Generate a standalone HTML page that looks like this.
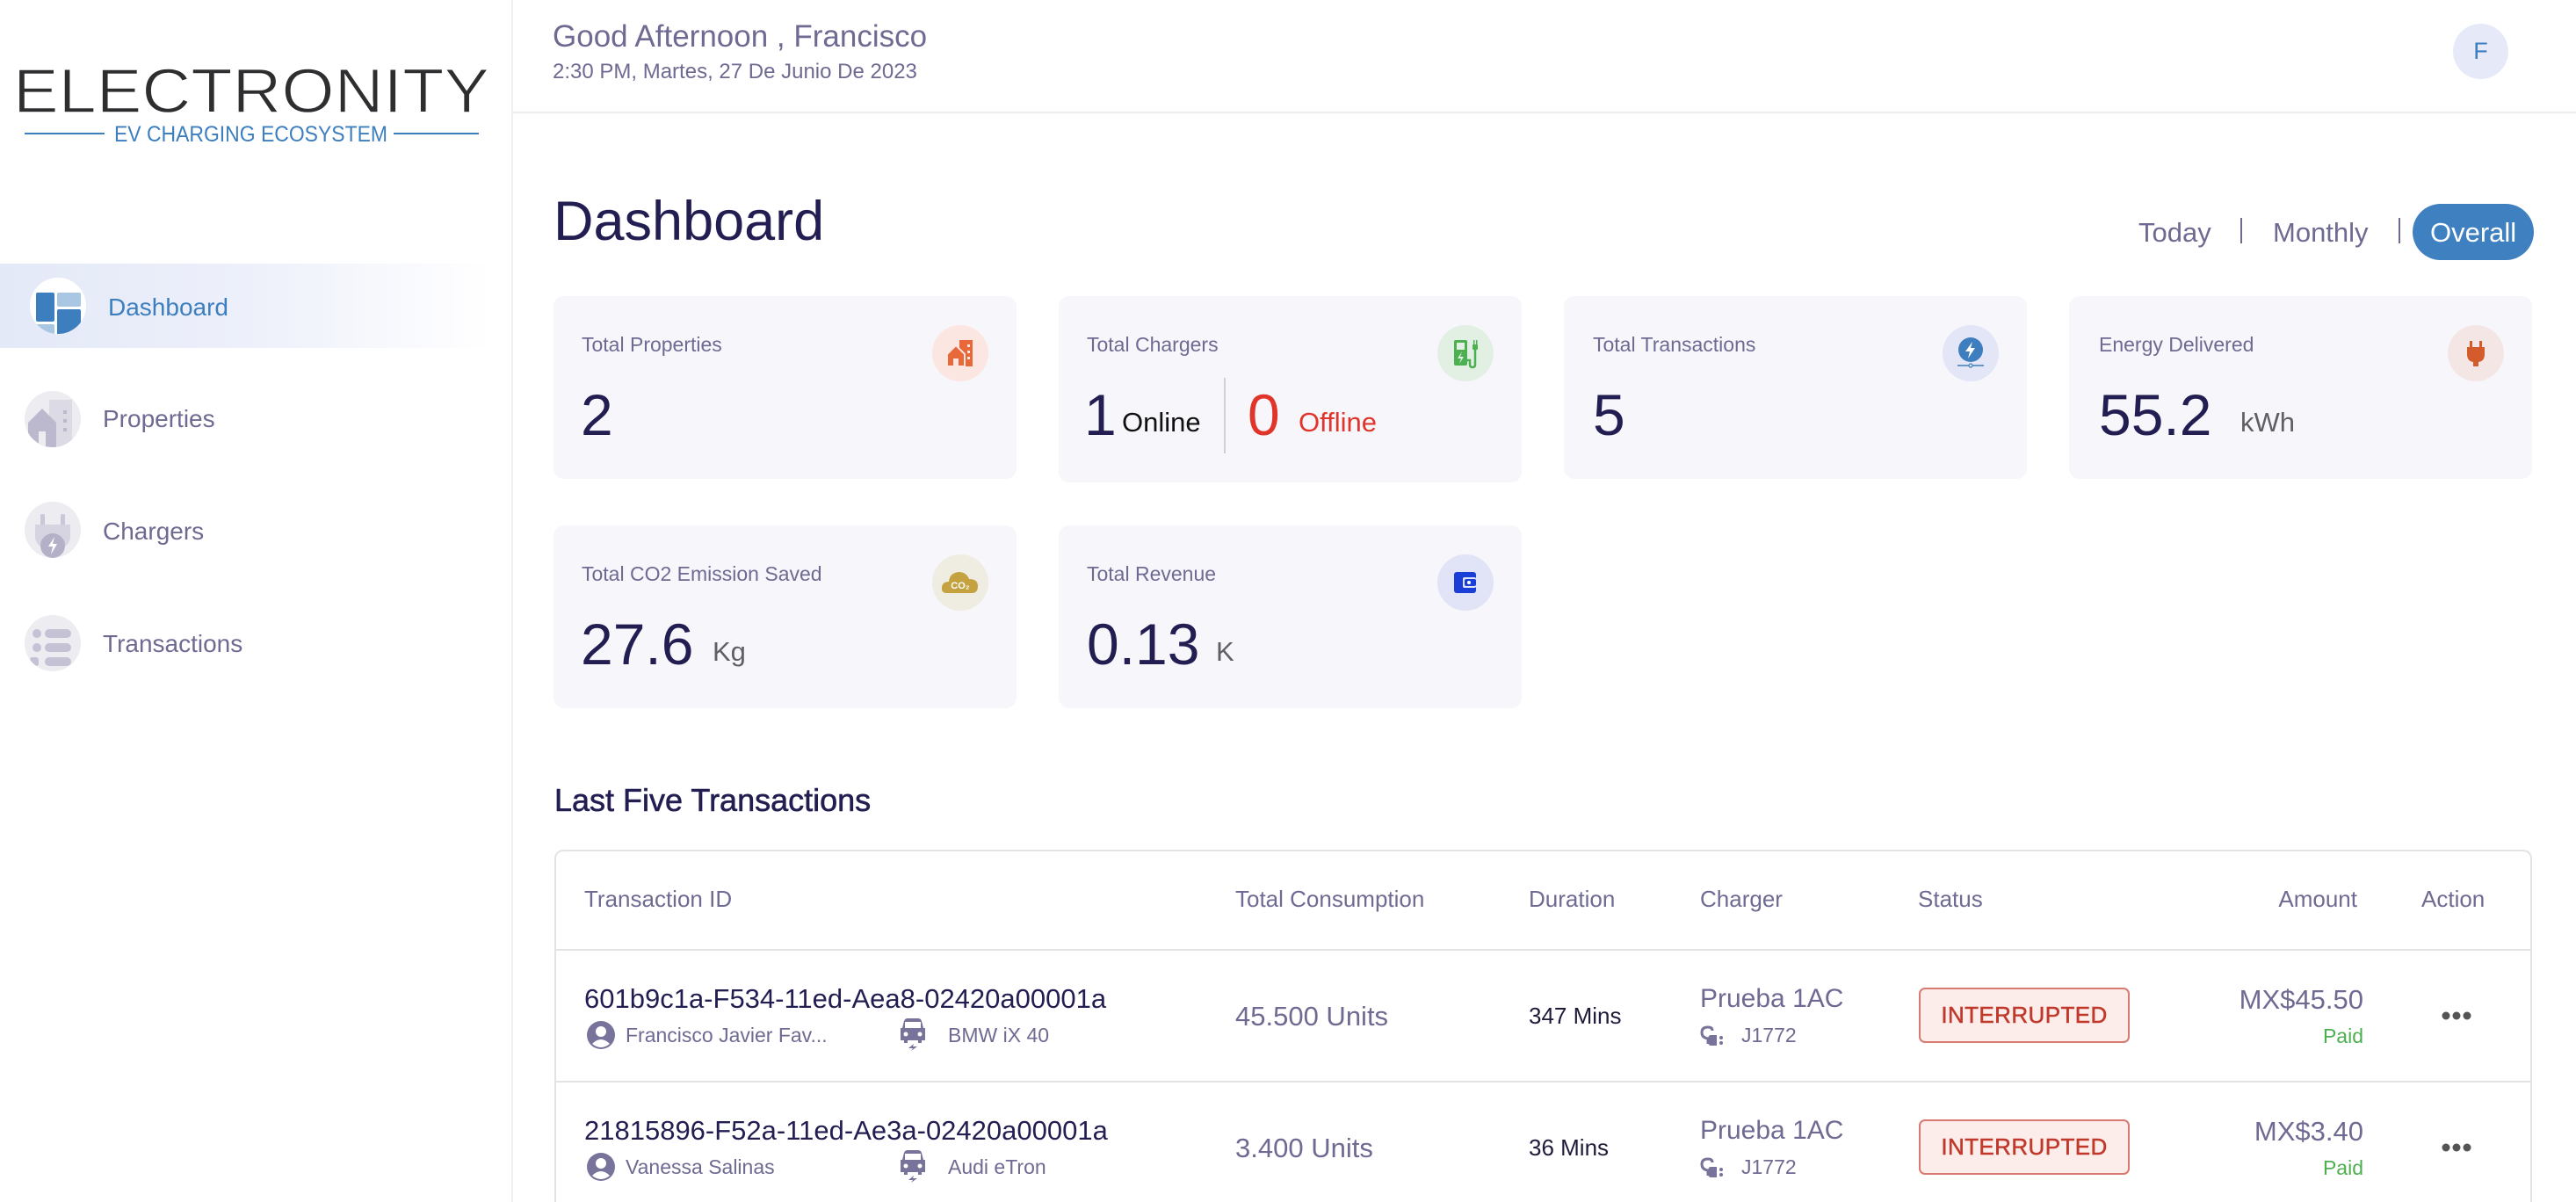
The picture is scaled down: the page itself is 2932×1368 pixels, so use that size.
<!DOCTYPE html>
<html><head><meta charset="utf-8"><style>
*{margin:0;padding:0;box-sizing:border-box}
html,body{width:2932px;height:1368px;overflow:hidden;background:#fff;font-family:"Liberation Sans",sans-serif}
#root{position:relative;width:2932px;height:1368px;overflow:hidden;background:#fff}
.a{position:absolute}
.t{position:absolute;line-height:1;white-space:nowrap}
.card{position:absolute;background:#f6f6fb;border-radius:12px;width:527px}
.lab{font-size:23px;color:#6e6a92}
.val{font-size:66px;color:#221e52}
.unit{font-size:31px;color:#5f5f66}
.g{color:#6e6a92}
.nav{font-size:28px;color:#6e6a92}
.th{font-size:26px;color:#6e6a92}
.id{font-size:31px;color:#221e52}
.sub{font-size:23px;color:#6e6a92}
.badge{position:absolute;width:240px;height:63px;border:2px solid #d87a72;border-radius:7px;background:#fcecea;color:#c0392b;font-size:26px;line-height:59px;text-align:center;letter-spacing:0.4px;-webkit-text-stroke:0.5px #c0392b}
</style></head><body>
<div id="root">

<!-- Sidebar -->
<div class="a" style="left:582px;top:0;width:2px;height:1368px;background:#efeff2"></div>
<svg class="a" style="left:0;top:0" width="580" height="200">
  <text x="15" y="128" font-family="Liberation Sans" font-size="71" fill="#2e2e30" stroke="#fff" stroke-width="1.4" textLength="542" lengthAdjust="spacingAndGlyphs">ELECTRONITY</text>
  <line x1="28" y1="152" x2="119" y2="152" stroke="#3d7ebf" stroke-width="2"/>
  <line x1="448" y1="152" x2="545" y2="152" stroke="#3d7ebf" stroke-width="2"/>
  <text x="130" y="161" font-family="Liberation Sans" font-size="25" fill="#3d7ebf" textLength="311" lengthAdjust="spacingAndGlyphs">EV CHARGING ECOSYSTEM</text>
</svg>
<div class="a" style="left:0;top:300px;width:560px;height:96px;background:linear-gradient(to right,#e4e9f8 0%,#edf0fa 50%,#ffffff 100%)"></div>
<!-- dashboard icon -->
<svg class="a" style="left:34px;top:316px" width="64" height="64" viewBox="0 0 64 64">
  <defs><clipPath id="cc"><circle cx="32" cy="32" r="32"/></clipPath></defs>
  <circle cx="32" cy="32" r="32" fill="#fff"/>
  <g clip-path="url(#cc)">
    <rect x="7" y="17" width="21" height="33" rx="2" fill="#3d7ebf"/>
    <rect x="31" y="17" width="27" height="16" rx="2" fill="#a9c6e3"/>
    <rect x="31" y="36" width="27" height="30" rx="2" fill="#3d7ebf"/>
    <rect x="7" y="53" width="21" height="14" rx="2" fill="#a9c6e3"/>
  </g>
</svg>
<div class="t nav" style="left:123px;top:336px;color:#3d7ebf">Dashboard</div>
<!-- properties icon -->
<svg class="a" style="left:28px;top:445px" width="64" height="64" viewBox="0 0 64 64">
  <defs><clipPath id="c2"><circle cx="32" cy="32" r="32"/></clipPath></defs>
  <circle cx="32" cy="32" r="32" fill="#ececf1"/>
  <g clip-path="url(#c2)">
    <rect x="28" y="10" width="26" height="56" fill="#dcdbe5"/>
    <path d="M4 36 L20 20 L36 36 V66 H4Z" fill="#bcb9cf"/>
    <rect x="16" y="46" width="8" height="20" fill="#ececf1"/>
    <rect x="44" y="22" width="4" height="4" fill="#bcb9cf"/><rect x="44" y="32" width="4" height="4" fill="#bcb9cf"/><rect x="44" y="42" width="4" height="4" fill="#bcb9cf"/>
  </g>
</svg>
<div class="t nav" style="left:117px;top:463px">Properties</div>
<!-- chargers icon -->
<svg class="a" style="left:28px;top:571px" width="64" height="64" viewBox="0 0 64 64">
  <defs><clipPath id="c3"><circle cx="32" cy="32" r="32"/></clipPath></defs>
  <circle cx="32" cy="32" r="32" fill="#ececf1"/>
  <g clip-path="url(#c3)">
    <rect x="18" y="14" width="5" height="14" rx="2" fill="#c9c7d8"/>
    <rect x="41" y="14" width="5" height="14" rx="2" fill="#c9c7d8"/>
    <path d="M12 26 H52 V40 Q52 52 32 56 Q12 52 12 40Z" fill="#d6d4e1"/>
    <circle cx="32" cy="50" r="14" fill="#b3b0c8"/>
    <path d="M34 40 L27 51 H32 L30 60 L37 48 H32Z" fill="#fff"/>
  </g>
</svg>
<div class="t nav" style="left:117px;top:591px">Chargers</div>
<!-- transactions icon -->
<svg class="a" style="left:28px;top:700px" width="64" height="64" viewBox="0 0 64 64">
  <defs><clipPath id="c4"><circle cx="32" cy="32" r="32"/></clipPath></defs>
  <circle cx="32" cy="32" r="32" fill="#ececf1"/>
  <g clip-path="url(#c4)" fill="#c4c2d4">
    <circle cx="14" cy="21" r="5"/><rect x="23" y="16" width="30" height="10" rx="5"/>
    <circle cx="14" cy="37" r="5"/><rect x="23" y="32" width="30" height="10" rx="5"/>
    <rect x="6" y="48" width="10" height="10" rx="3"/><rect x="23" y="48" width="30" height="10" rx="5"/>
  </g>
</svg>
<div class="t nav" style="left:117px;top:719px">Transactions</div>

<!-- Header -->
<div class="a" style="left:584px;top:127px;width:2348px;height:2px;background:#ececf0"></div>
<div class="t g" style="left:629px;top:24px;font-size:35px">Good Afternoon , Francisco</div>
<div class="t g" style="left:629px;top:70px;font-size:24px">2:30 PM, Martes, 27 De Junio De 2023</div>
<div class="a" style="left:2792px;top:27px;width:63px;height:63px;border-radius:50%;background:#e6eaf8;color:#3d7ebf;font-size:27px;line-height:63px;text-align:center">F</div>

<!-- Title + toggle -->
<div class="t" style="left:630px;top:221px;font-size:63px;color:#221e52">Dashboard</div>
<div class="t g" style="left:2434px;top:249px;font-size:31px">Today</div>
<div class="a" style="left:2550px;top:248px;width:2px;height:29px;background:#6e6a92"></div>
<div class="t g" style="left:2587px;top:249px;font-size:31px">Monthly</div>
<div class="a" style="left:2730px;top:248px;width:2px;height:29px;background:#6e6a92"></div>
<div class="a" style="left:2746px;top:232px;width:138px;height:64px;border-radius:32px;background:#3f80c0"></div>
<div class="t" style="left:2766px;top:249px;font-size:31px;color:#fff">Overall</div>

<!-- Cards -->
<div class="card" style="left:630px;top:337px;height:208px"></div>
<div class="card" style="left:1205px;top:337px;height:212px"></div>
<div class="card" style="left:1780px;top:337px;height:208px"></div>
<div class="card" style="left:2355px;top:337px;height:208px"></div>
<div class="card" style="left:630px;top:598px;height:208px"></div>
<div class="card" style="left:1205px;top:598px;height:208px"></div>

<!-- card 1 -->
<div class="t lab" style="left:662px;top:381px">Total Properties</div>
<div class="t val" style="left:661px;top:439px">2</div>
<svg class="a" style="left:1061px;top:370px" width="64" height="64" viewBox="0 0 64 64">
  <circle cx="32" cy="32" r="32" fill="#fbe6e1"/>
  <rect x="31" y="17" width="15" height="30" fill="#e8683a"/>
  <rect x="40" y="22" width="3" height="3" fill="#fbe6e1"/><rect x="40" y="29" width="3" height="3" fill="#fbe6e1"/><rect x="40" y="36" width="3" height="3" fill="#fbe6e1"/>
  <path d="M17 33 L27 23 L37 33 V47 H17Z" fill="#e8683a" stroke="#fbe6e1" stroke-width="2"/>
  <rect x="24" y="38" width="6" height="9" fill="#fbe6e1"/>
</svg>

<!-- card 2 -->
<div class="t lab" style="left:1237px;top:381px">Total Chargers</div>
<div class="t val" style="left:1234px;top:439px">1</div>
<div class="t" style="left:1277px;top:465px;font-size:31px;color:#111">Online</div>
<div class="a" style="left:1393px;top:430px;width:2px;height:86px;background:#cfcfd8"></div>
<div class="t val" style="left:1420px;top:439px;color:#e0352b">0</div>
<div class="t" style="left:1478px;top:465px;font-size:31px;color:#e0352b">Offline</div>
<svg class="a" style="left:1636px;top:370px" width="64" height="64" viewBox="0 0 64 64">
  <circle cx="32" cy="32" r="32" fill="#e2f0e3"/>
  <rect x="19" y="17" width="15" height="29" rx="2" fill="#4caf50"/>
  <rect x="22" y="20" width="9" height="8" fill="#e2f0e3"/>
  <path d="M28 30 L23 38 H27 L25 44 L30 36 H26Z" fill="#e2f0e3"/>
  <path d="M34 40 H37 V45 Q37 48 40 48 Q43 48 43 45 V27" fill="none" stroke="#4caf50" stroke-width="2.5"/>
  <rect x="40" y="22" width="6" height="6" rx="1" fill="#4caf50"/>
  <rect x="41" y="17" width="1.5" height="5" fill="#4caf50"/><rect x="44" y="17" width="1.5" height="5" fill="#4caf50"/>
</svg>

<!-- card 3 -->
<div class="t lab" style="left:1813px;top:381px">Total Transactions</div>
<div class="t val" style="left:1813px;top:439px">5</div>
<svg class="a" style="left:2211px;top:370px" width="64" height="64" viewBox="0 0 64 64">
  <circle cx="32" cy="32" r="32" fill="#e2e6f6"/>
  <circle cx="32" cy="28" r="14" fill="#3d7ebf"/>
  <path d="M34 19 L26 30 H31 L29 38 L37 26 H32Z" fill="#fff"/>
  <line x1="17" y1="46" x2="47" y2="46" stroke="#3d7ebf" stroke-width="1.5"/>
  <circle cx="32" cy="46" r="2" fill="#e2e6f6" stroke="#3d7ebf" stroke-width="1.2"/>
</svg>

<!-- card 4 -->
<div class="t lab" style="left:2389px;top:381px">Energy Delivered</div>
<div class="t val" style="left:2389px;top:439px">55.2</div>
<div class="t unit" style="left:2550px;top:465px">kWh</div>
<svg class="a" style="left:2786px;top:370px" width="64" height="64" viewBox="0 0 64 64">
  <circle cx="32" cy="32" r="32" fill="#f5e6e6"/>
  <rect x="25" y="18" width="3" height="8" fill="#d35b2c"/><rect x="36" y="18" width="3" height="8" fill="#d35b2c"/>
  <path d="M22 25 H42 V33 Q42 41 35 42 V47 H29 V42 Q22 41 22 33Z" fill="#d35b2c"/>
</svg>

<!-- card 5 -->
<div class="t lab" style="left:662px;top:642px">Total CO2 Emission Saved</div>
<div class="t val" style="left:661px;top:700px">27.6</div>
<div class="t unit" style="left:811px;top:726px">Kg</div>
<svg class="a" style="left:1061px;top:631px" width="64" height="64" viewBox="0 0 64 64">
  <circle cx="32" cy="32" r="32" fill="#efece2"/>
  <path d="M17 44 Q10 44 11 37 Q12 31 19 31 Q20 21 30 20 Q39 20 42 28 Q52 28 52 36 Q52 44 45 44Z" fill="#c4a23f"/>
  <text x="32" y="39" font-family="Liberation Sans" font-size="11" font-weight="bold" fill="#fff" text-anchor="middle">CO₂</text>
</svg>

<!-- card 6 -->
<div class="t lab" style="left:1237px;top:642px">Total Revenue</div>
<div class="t val" style="left:1237px;top:700px">0.13</div>
<div class="t unit" style="left:1384px;top:726px">K</div>
<svg class="a" style="left:1636px;top:631px" width="64" height="64" viewBox="0 0 64 64">
  <circle cx="32" cy="32" r="32" fill="#e1e4f6"/>
  <rect x="19" y="20" width="25" height="24" rx="3" fill="#1a3fd6"/>
  <rect x="29" y="26" width="15" height="12" rx="2" fill="#e1e4f6"/>
  <rect x="31" y="28" width="13" height="8" rx="2" fill="#1a3fd6"/>
  <circle cx="36" cy="32" r="2" fill="#fff"/>
</svg>

<!-- Last five transactions -->
<div class="t" style="left:631px;top:893px;font-size:36px;color:#221e52;-webkit-text-stroke:0.6px #221e52">Last Five Transactions</div>

<div class="a" style="left:631px;top:967px;width:2251px;height:401px;border:2px solid #e3e3e6;border-bottom:none;border-radius:10px 10px 0 0"></div>
<div class="a" style="left:631px;top:1080px;width:2251px;height:2px;background:#e3e3e6"></div>
<div class="a" style="left:631px;top:1230px;width:2251px;height:2px;background:#e3e3e6"></div>

<div class="t th" style="left:665px;top:1010px">Transaction ID</div>
<div class="t th" style="left:1406px;top:1010px">Total Consumption</div>
<div class="t th" style="left:1740px;top:1010px">Duration</div>
<div class="t th" style="left:1935px;top:1010px">Charger</div>
<div class="t th" style="left:2183px;top:1010px">Status</div>
<div class="t th" style="left:2483px;top:1010px;width:200px;text-align:right">Amount</div>
<div class="t th" style="left:2756px;top:1010px">Action</div>

<!-- Row 1 -->
<div class="t id" style="left:665px;top:1121px">601b9c1a-F534-11ed-Aea8-02420a00001a</div>
<svg class="a" style="left:667px;top:1161px" width="34" height="34" viewBox="0 0 34 34">
  <circle cx="17" cy="17" r="16" fill="#77739b"/>
  <circle cx="17" cy="13" r="6" fill="#fff"/>
  <path d="M7 27 Q17 17 27 27 Q22 31 17 31 Q12 31 7 27Z" fill="#fff"/>
</svg>
<div class="t sub" style="left:712px;top:1167px">Francisco Javier Fav...</div>
<svg class="a" style="left:1023px;top:1158px" width="32" height="38" viewBox="0 0 32 38">
  <path d="M6 4 Q7 1 10 1 H22 Q25 1 26 4 L28 12 H30 V26 H26 V29 H22 V26 H10 V29 H6 V26 H2 V12 H4Z" fill="#77739b"/>
  <rect x="7" y="5" width="18" height="7" fill="#fff"/>
  <circle cx="8" cy="19" r="2.5" fill="#fff"/><circle cx="24" cy="19" r="2.5" fill="#fff"/>
  <path d="M17 30 L11 35 H16 L14 38 L21 33 H16Z" fill="#77739b"/>
</svg>
<div class="t sub" style="left:1079px;top:1167px">BMW iX 40</div>
<div class="t g" style="left:1406px;top:1141px;font-size:31px">45.500 Units</div>
<div class="t" style="left:1740px;top:1143px;font-size:26px;color:#1e1b3a">347 Mins</div>
<div class="t g" style="left:1935px;top:1122px;font-size:30px">Prueba 1AC</div>
<svg class="a" style="left:1935px;top:1166px" width="36" height="26" viewBox="0 0 36 26">
  <path d="M9 22 V16 Q2 15 2 9 Q2 3 9 3 Q14 3 14 7" fill="none" stroke="#77739b" stroke-width="3"/>
  <path d="M12 12 H19 V24 H12 Q9 24 9 18 Q9 12 12 12Z" fill="#77739b"/>
  <circle cx="24" cy="15" r="2" fill="#77739b"/><circle cx="24" cy="21" r="2" fill="#77739b"/>
</svg>
<div class="t sub" style="left:1982px;top:1167px">J1772</div>
<div class="badge" style="left:2184px;top:1124px">INTERRUPTED</div>
<div class="t g" style="left:2440px;top:1122px;width:250px;text-align:right;font-size:31px">MX$45.50</div>
<div class="t" style="left:2590px;top:1168px;width:100px;text-align:right;font-size:23px;color:#4caf50">Paid</div>
<svg class="a" style="left:2778px;top:1150px" width="36" height="12"><circle cx="6" cy="6" r="4.5" fill="#555"/><circle cx="18" cy="6" r="4.5" fill="#555"/><circle cx="30" cy="6" r="4.5" fill="#555"/></svg>

<!-- Row 2 -->
<div class="t id" style="left:665px;top:1271px">21815896-F52a-11ed-Ae3a-02420a00001a</div>
<svg class="a" style="left:667px;top:1311px" width="34" height="34" viewBox="0 0 34 34">
  <circle cx="17" cy="17" r="16" fill="#77739b"/>
  <circle cx="17" cy="13" r="6" fill="#fff"/>
  <path d="M7 27 Q17 17 27 27 Q22 31 17 31 Q12 31 7 27Z" fill="#fff"/>
</svg>
<div class="t sub" style="left:712px;top:1317px">Vanessa Salinas</div>
<svg class="a" style="left:1023px;top:1308px" width="32" height="38" viewBox="0 0 32 38">
  <path d="M6 4 Q7 1 10 1 H22 Q25 1 26 4 L28 12 H30 V26 H26 V29 H22 V26 H10 V29 H6 V26 H2 V12 H4Z" fill="#77739b"/>
  <rect x="7" y="5" width="18" height="7" fill="#fff"/>
  <circle cx="8" cy="19" r="2.5" fill="#fff"/><circle cx="24" cy="19" r="2.5" fill="#fff"/>
  <path d="M17 30 L11 35 H16 L14 38 L21 33 H16Z" fill="#77739b"/>
</svg>
<div class="t sub" style="left:1079px;top:1317px">Audi eTron</div>
<div class="t g" style="left:1406px;top:1291px;font-size:31px">3.400 Units</div>
<div class="t" style="left:1740px;top:1293px;font-size:26px;color:#1e1b3a">36 Mins</div>
<div class="t g" style="left:1935px;top:1272px;font-size:30px">Prueba 1AC</div>
<svg class="a" style="left:1935px;top:1316px" width="36" height="26" viewBox="0 0 36 26">
  <path d="M9 22 V16 Q2 15 2 9 Q2 3 9 3 Q14 3 14 7" fill="none" stroke="#77739b" stroke-width="3"/>
  <path d="M12 12 H19 V24 H12 Q9 24 9 18 Q9 12 12 12Z" fill="#77739b"/>
  <circle cx="24" cy="15" r="2" fill="#77739b"/><circle cx="24" cy="21" r="2" fill="#77739b"/>
</svg>
<div class="t sub" style="left:1982px;top:1317px">J1772</div>
<div class="badge" style="left:2184px;top:1274px">INTERRUPTED</div>
<div class="t g" style="left:2440px;top:1272px;width:250px;text-align:right;font-size:31px">MX$3.40</div>
<div class="t" style="left:2590px;top:1318px;width:100px;text-align:right;font-size:23px;color:#4caf50">Paid</div>
<svg class="a" style="left:2778px;top:1300px" width="36" height="12"><circle cx="6" cy="6" r="4.5" fill="#555"/><circle cx="18" cy="6" r="4.5" fill="#555"/><circle cx="30" cy="6" r="4.5" fill="#555"/></svg>

</div>
</body></html>
